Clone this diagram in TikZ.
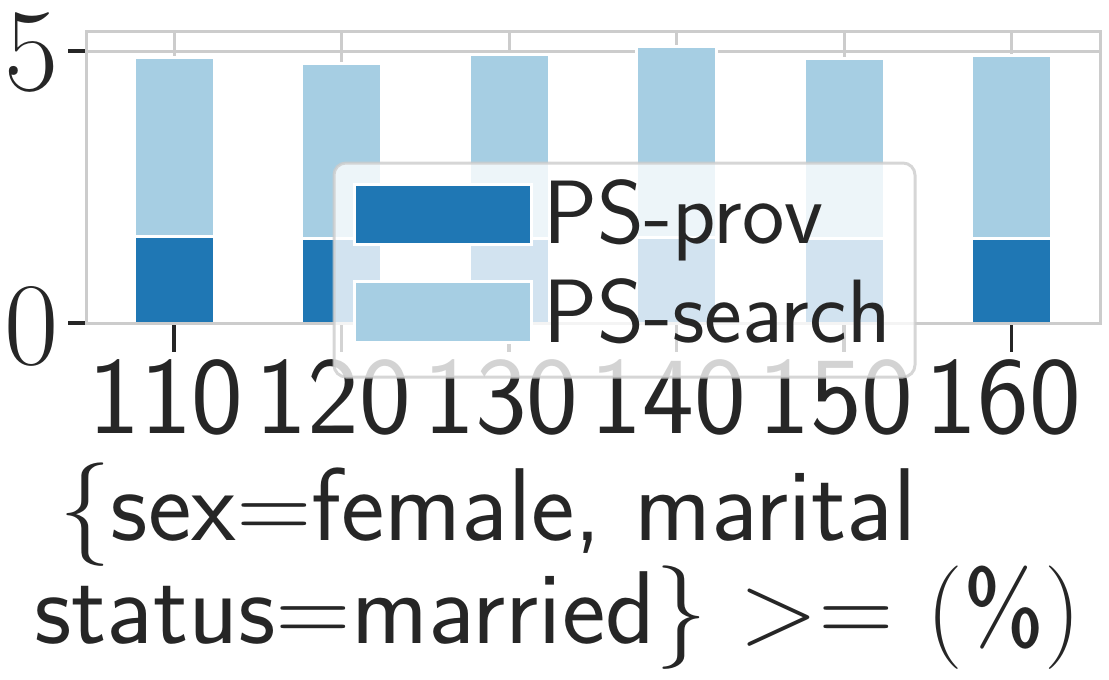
\documentclass[tikz,border=0pt]{standalone}
\usepackage{fontspec}
\definecolor{dblue}{HTML}{1F77B4}
\definecolor{lblue}{HTML}{A6CEE3}
\definecolor{gridc}{HTML}{CCCCCC}
\definecolor{txt}{HTML}{262626}
\newcommand{\rmpart}[1]{{\rmfamily #1}}
\tikzset{
  gridline/.style={draw=gridc, line width=3pt},
  tickline/.style={draw=txt, line width=3.5pt},
  barlow/.style={fill=dblue, draw=white, line width=3pt},
  barhigh/.style={fill=lblue, draw=white, line width=3pt},
  xtick/.style={anchor=base, inner sep=0pt, text=txt, font=\sffamily\fontsize{110}{110}\selectfont},
  ytick/.style={anchor=center, inner sep=0pt, text=txt, font=\rmfamily\fontsize{118}{118}\selectfont},
  legtext/.style={anchor=base west, inner sep=0pt, text=txt, font=\sffamily\fontsize{90}{90}\selectfont},
  xlab/.style={anchor=base west, inner sep=0pt, text=txt, font=\sffamily\fontsize{103.5}{103.5}\selectfont},
}
\begin{document}
\begin{tikzpicture}[x=1pt,y=-1pt]
\useasboundingbox (0,0) rectangle (1109,680);
% grid
\draw[gridline] (86,51) -- (1100,51);
\foreach \x in {174,341.5,509,676.5,844,1011.5} {
  \draw[gridline] (\x,31) -- (\x,323);
}
% bars
\foreach \x/\t/\s in {174/57/236, 341.5/63/238, 509/54/238, 676.5/46/237, 844/58/238, 1011.5/55/238} {
  \path[barhigh] (\x-40,\t) rectangle (\x+40,\s);
  \path[barlow] (\x-40,\s) rectangle (\x+40,323);
}
% frame
\draw[gridline] (86,31) rectangle (1100,323);
% ticks
\draw[tickline] (68,51) -- (85,51);
\draw[tickline] (68,323) -- (85,323);
\foreach \x in {174,341.5,509,676.5,844,1011.5} {
  \draw[tickline] (\x,325) -- (\x,352);
}
% tick labels
\node[ytick] (y5) at (32,53) {5};
\node[ytick] (y0) at (32,326) {0};
\node[xtick] (x110) at (166,433) {110};
\node[xtick] (x120) at (333.5,433) {120};
\node[xtick] (x130) at (501,433) {130};
\node[xtick] (x140) at (668.5,433) {140};
\node[xtick] (x150) at (836,433) {150};
\node[xtick] (x160) at (1003.5,433) {160};
% legend
\path[draw=gridc, line width=3pt, rounded corners=12pt, fill=white, fill opacity=0.8, draw opacity=0.8] (334,163) rectangle (915,377);
\path[barlow] (354,184) rectangle (531,244);
\path[barhigh] (354,281) rectangle (531,342);
\node[legtext] (lprov) at (543,243) {PS-prov};
\node[legtext] (lsearch) at (543,342) {PS-search};
% x label
\node[xlab] (xl1) at (59,540) {\rmpart{\{}sex=female, marital};
\node[xlab] (xl2) at (34,643) {status=married\rmpart{\}} \rmpart{>}= \rmpart{(}\%\rmpart{)}};
\end{tikzpicture}
\end{document}
